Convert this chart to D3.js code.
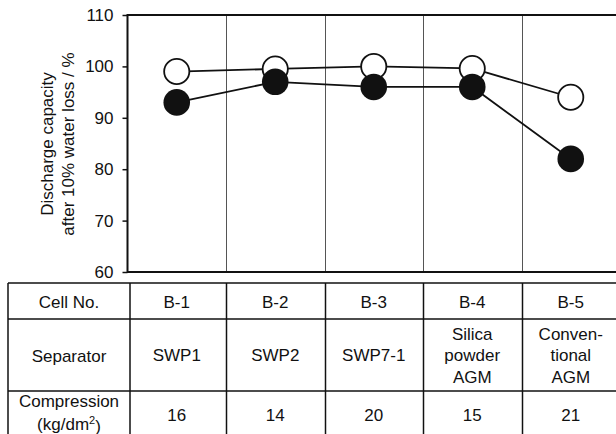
<!DOCTYPE html>
<html>
<head>
<meta charset="utf-8">
<script src="https://cdn.jsdelivr.net/npm/d3@7"></script>
<style>
  html, body { margin: 0; padding: 0; background: #fff; }
  svg text { font-family: "Liberation Sans", Arial, Helvetica, sans-serif; fill: #111; }
</style>
</head>
<body>
<svg id="chart" width="616" height="434"></svg>
<script>
// Cells and their measured discharge capacity after 10% water loss
const cells = ["B-1", "B-2", "B-3", "B-4", "B-5"];
const openSeries = [99, 99.5, 100, 99.6, 94];
const filledSeries = [93, 97, 96, 96, 82];
const yTicks = [60, 70, 80, 90, 100, 110];

// Table contents below the plot
const rowHeaders = [["Cell No."], ["Separator"], ["Compression", "(kg/dm²)"]];
const separators = [["SWP1"], ["SWP2"], ["SWP7-1"], ["Silica", "powder", "AGM"], ["Conven-", "tional", "AGM"]];
const compression = ["16", "14", "20", "15", "21"];

const svg = d3.select("#chart");
const FONT = 17;

const plotLeft = 127.5, plotTop = 15, plotBottom = 272;
const x = d3.scaleBand().domain(cells).range([plotLeft, 620]).paddingInner(0).paddingOuter(0);
const y = d3.scaleLinear().domain([60, 110]).range([plotBottom, plotTop]);

// column dividers inside the plot
const g = svg.append("g");
g.selectAll("line.grid")
  .data(cells.slice(1))
  .join("line")
  .attr("class", "grid")
  .attr("x1", d => Math.round(x(d)) + 0.5).attr("x2", d => Math.round(x(d)) + 0.5)
  .attr("y1", plotTop).attr("y2", plotBottom)
  .attr("stroke", "#555").attr("stroke-width", 1);

// y axis
const yAxis = d3.axisLeft(y).tickValues(yTicks).tickSize(5).tickPadding(9);
const ax = svg.append("g").attr("transform", `translate(${plotLeft},0)`).call(yAxis);
ax.select(".domain").remove();
ax.selectAll(".tick line").attr("stroke", "#111").attr("stroke-width", 1.5);
ax.selectAll(".tick text").attr("font-size", FONT).attr("font-family", "Liberation Sans, Arial, sans-serif").attr("fill", "#111");

// plot frame: left, top, bottom
svg.append("path")
  .attr("d", `M616,${plotTop} H${plotLeft} V${plotBottom} H616`)
  .attr("fill", "none").attr("stroke", "#111").attr("stroke-width", 2);

// y axis title (two lines)
const titleY = 144;
const title = svg.append("text")
  .attr("transform", `translate(47,${titleY}) rotate(-90)`)
  .attr("text-anchor", "middle")
  .attr("font-size", FONT);
title.append("tspan").attr("x", 0).attr("dy", "0.35em").text("Discharge capacity");
title.append("tspan").attr("x", 0).attr("dy", 21).text("after 10% water loss / %");

// series lines
const line = d3.line().x((d, i) => x(cells[i]) + x.bandwidth() / 2).y(d => y(d));
[openSeries, filledSeries].forEach(s => {
  svg.append("path").attr("d", line(s))
    .attr("fill", "none").attr("stroke", "#111").attr("stroke-width", 1.8);
});

// markers: open circles, then filled circles on top
svg.append("g").selectAll("circle")
  .data(openSeries).join("circle")
  .attr("cx", (d, i) => x(cells[i]) + x.bandwidth() / 2)
  .attr("cy", d => y(d))
  .attr("r", 12.6)
  .attr("fill", "#fff").attr("stroke", "#111").attr("stroke-width", 1.8);
svg.append("g").selectAll("circle")
  .data(filledSeries).join("circle")
  .attr("cx", (d, i) => x(cells[i]) + x.bandwidth() / 2)
  .attr("cy", d => y(d))
  .attr("r", 13.3)
  .attr("fill", "#111");

// ---- table ----
const tableLeft = 8, tableRight = 616, firstDivider = 130;
const rowEdges = [283, 319, 391, 450];
const tbl = svg.append("g").attr("stroke", "#111").attr("stroke-width", 1.5);
rowEdges.slice(0, 3).forEach(yy => {
  tbl.append("line").attr("x1", tableLeft).attr("x2", tableRight).attr("y1", yy).attr("y2", yy);
});
const colEdges = [tableLeft, firstDivider].concat(cells.slice(1).map(c => Math.round(x(c)) + 0.5));
colEdges.forEach(xx => {
  tbl.append("line").attr("x1", xx).attr("x2", xx).attr("y1", rowEdges[0]).attr("y2", 434);
});

const colCenters = cells.map(c => x(c) + x.bandwidth() / 2);
const headerCenter = (tableLeft + firstDivider) / 2;
const lineGap = 21.5;

function cellText(cx, cy, lines, gap) {
  const lg = gap || lineGap;
  const t = svg.append("text").attr("text-anchor", "middle").attr("font-size", FONT);
  const start = cy - (lines.length - 1) * lg / 2;
  lines.forEach((ln, i) => {
    const ts = t.append("tspan").attr("x", cx).attr("y", start + i * lg).attr("dy", "0.35em");
    if (ln.includes("²")) {
      ts.text(ln.replace("²)", ""));
      ts.append("tspan").attr("font-size", 11).attr("dy", "-0.6em").text("2");
      ts.append("tspan").attr("dy", "0.45em").text(")");
    } else {
      ts.text(ln);
    }
  });
}

const rowCenters = [302.5, 356, 414];
rowHeaders.forEach((h, r) => cellText(headerCenter, r === 2 ? 413 : rowCenters[r], h, 23));
cells.forEach((c, i) => cellText(colCenters[i], rowCenters[0], [c]));
separators.forEach((s, i) => cellText(colCenters[i], rowCenters[1] - 0.5, s));
compression.forEach((v, i) => cellText(colCenters[i], rowCenters[2] + 1, [v]));
</script>
</body>
</html>
